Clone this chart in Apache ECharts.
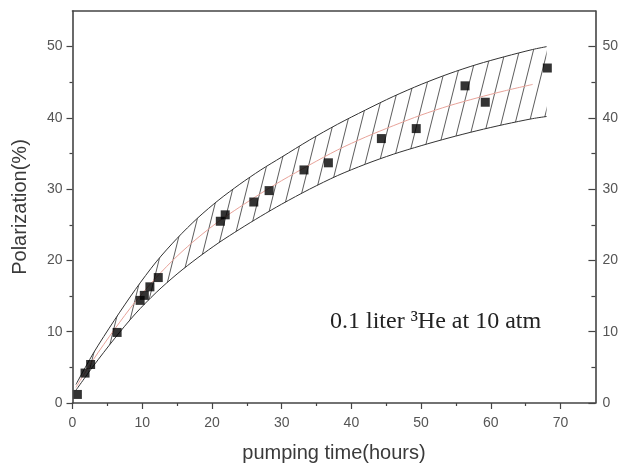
<!DOCTYPE html>
<html>
<head>
<meta charset="utf-8">
<script src="https://cdn.jsdelivr.net/npm/echarts@6/dist/echarts.min.js"></script>
<style>
html,body{margin:0;padding:0;background:#fff;}
#chart{width:621px;height:468px;}
</style>
</head>
<body>
<div id="chart"></div>
<script>
// ---- data ----
const pointT = [0.7, 1.8, 2.6, 6.4, 9.7, 10.3, 11.1, 12.3, 21.2, 21.9, 26.0, 28.2, 33.2, 36.7, 44.3, 49.3, 56.3, 59.2, 68.1];
const pointP = [1.2, 4.2, 5.4, 9.9, 14.4, 15.1, 16.3, 17.6, 25.5, 26.4, 28.2, 29.8, 32.7, 33.7, 37.1, 38.5, 44.5, 42.2, 47.0];

const bandT  = [0.5, 3, 6, 9, 12, 15, 18, 21, 24, 27, 30, 34, 38, 42, 46, 50, 54, 58, 62, 66, 68];
const upperP = [2.6, 7.0, 11.6, 15.9, 19.8, 23.1, 26.0, 28.5, 30.7, 32.7, 34.5, 36.9, 39.1, 41.1, 43.0, 44.7, 46.2, 47.5, 48.6, 49.6, 50.0];
const lowerP = [1.8, 5.2, 9.0, 12.5, 15.5, 18.1, 20.4, 22.5, 24.4, 26.2, 27.9, 30.0, 31.9, 33.5, 34.9, 36.1, 37.2, 38.2, 39.1, 39.9, 40.2];

const fitT = [0.5, 3, 6, 9, 12, 15, 18, 21, 24, 27, 30, 34, 38, 42, 46, 50, 54, 58, 62, 66];
const fitP = [2.2, 6.1, 10.3, 14.2, 17.6, 20.6, 23.2, 25.5, 27.5, 29.4, 31.2, 33.4, 35.5, 37.3, 38.9, 40.4, 41.7, 42.8, 43.8, 44.7];

const xTicks = [0, 10, 20, 30, 40, 50, 60, 70];
const xMinorTicks = [5, 15, 25, 35, 45, 55, 65];
const yTicks = [0, 10, 20, 30, 40, 50];
const yMinorTicks = [5, 15, 25, 35, 45];

const xTitle = 'pumping time(hours)';
const yTitle = 'Polarization(%)';
const note = '0.1 liter \u00B3He at 10 atm';

// ---- hatch pattern tile ----
const tile = document.createElement('canvas');
tile.width = 14; tile.height = 56;
const tc = tile.getContext('2d');
tc.strokeStyle = '#4a4a4a';
tc.lineWidth = 0.9;
[-14, 0, 14].forEach(dx => {
  tc.beginPath(); tc.moveTo(dx, 56); tc.lineTo(dx + 14, 0); tc.stroke();
});

const axisColor = '#444';
const labelColor = '#555';
const fontSans = '"Liberation Sans", Arial, sans-serif';

const pts = pointT.map((t, i) => [t, pointP[i]]);
const upperData = bandT.map((t, i) => [t, upperP[i]]);
const lowerData = bandT.map((t, i) => [t, lowerP[i]]);
const fitData = fitT.map((t, i) => [t, fitP[i]]);

function renderBand(params, api) {
  const up = bandT.map((t, i) => api.coord([t, upperP[i]]));
  const lo = bandT.map((t, i) => api.coord([t, lowerP[i]])).reverse();
  return {
    type: 'polygon',
    shape: {points: up.concat(lo)},
    style: {fill: {image: tile, repeat: 'repeat'}, stroke: null},
    silent: true
  };
}

const baseTick = {lineStyle: {color: axisColor, width: 1.2}};
const lineOn = {show: true, onZero: false, lineStyle: {color: axisColor, width: 1.6}};
const lineOff = {show: false, onZero: false};

const chart = echarts.init(document.getElementById('chart'), null, {renderer: 'canvas'});
chart.setOption({
  animation: false,
  backgroundColor: '#fff',
  grid: {left: 72.5, right: 24.5, top: 11, bottom: 65},
  xAxis: [
    {
      type: 'value', position: 'bottom', min: 0, max: 75, z: 10,
      name: xTitle, nameLocation: 'middle', nameGap: 40,
      nameTextStyle: {fontFamily: fontSans, fontSize: 20, color: '#3a3a3a'},
      axisLine: lineOn,
      axisTick: Object.assign({length: 6, customValues: xTicks}, baseTick),
      axisLabel: {customValues: xTicks, fontFamily: fontSans, fontSize: 14, color: labelColor, margin: 13},
      splitLine: {show: false}
    },
    {
      type: 'value', position: 'bottom', min: 0, max: 75, z: 10,
      axisLine: lineOff,
      axisTick: Object.assign({length: 3, customValues: xMinorTicks}, baseTick),
      axisLabel: {show: false}, splitLine: {show: false}
    },
    {
      type: 'value', position: 'top', min: 0, max: 75, z: 10,
      axisLine: lineOn,
      axisTick: {show: false}, axisLabel: {show: false}, splitLine: {show: false}
    }
  ],
  yAxis: [
    {
      type: 'value', position: 'left', min: 0, max: 55, z: 10,
      name: yTitle, nameLocation: 'middle', nameGap: 42, nameRotate: 90,
      nameTextStyle: {fontFamily: fontSans, fontSize: 20, color: '#3a3a3a'},
      axisLine: lineOn,
      axisTick: Object.assign({show: true, length: 6, customValues: yTicks}, baseTick),
      axisLabel: {customValues: yTicks, fontFamily: fontSans, fontSize: 14, color: labelColor, margin: 10},
      splitLine: {show: false}
    },
    {
      type: 'value', position: 'left', min: 0, max: 55, z: 10,
      axisLine: lineOff,
      axisTick: Object.assign({show: true, length: 3, customValues: yMinorTicks}, baseTick),
      axisLabel: {show: false}, splitLine: {show: false}
    },
    {
      type: 'value', position: 'right', min: 0, max: 55, z: 10,
      axisLine: lineOn,
      axisTick: Object.assign({show: true, inside: true, length: 7, customValues: yTicks}, baseTick),
      axisLabel: {customValues: yTicks, fontFamily: fontSans, fontSize: 14, color: labelColor, margin: 7},
      splitLine: {show: false}
    },
    {
      type: 'value', position: 'right', min: 0, max: 55, z: 10,
      axisLine: lineOff,
      axisTick: Object.assign({show: true, inside: true, length: 4, customValues: yMinorTicks}, baseTick),
      axisLabel: {show: false}, splitLine: {show: false}
    }
  ],
  series: [
    {
      name: 'band', type: 'custom', renderItem: renderBand,
      data: [[bandT[0], upperP[0]]], z: 1, silent: true
    },
    {
      name: 'upper', type: 'line', data: upperData,
      smooth: 0.3, showSymbol: false, symbol: 'none',
      lineStyle: {color: '#333', width: 1}, z: 2, silent: true
    },
    {
      name: 'lower', type: 'line', data: lowerData,
      smooth: 0.3, showSymbol: false, symbol: 'none',
      lineStyle: {color: '#333', width: 1}, z: 2, silent: true
    },
    {
      name: 'fit', type: 'line', data: fitData,
      smooth: 0.3, showSymbol: false, symbol: 'none',
      lineStyle: {color: '#e8a39a', width: 1}, z: 3, silent: true
    },
    {
      name: 'data', type: 'scatter', data: pts,
      symbol: 'rect', symbolSize: 9,
      itemStyle: {color: '#000'}, z: 5
    }
  ],
  graphic: [
    {
      type: 'text', left: 330, top: 310, z: 100,
      style: {text: note, font: '24px "Liberation Serif", "Times New Roman", serif', fill: '#222'}
    }
  ]
});
</script>
</body>
</html>
